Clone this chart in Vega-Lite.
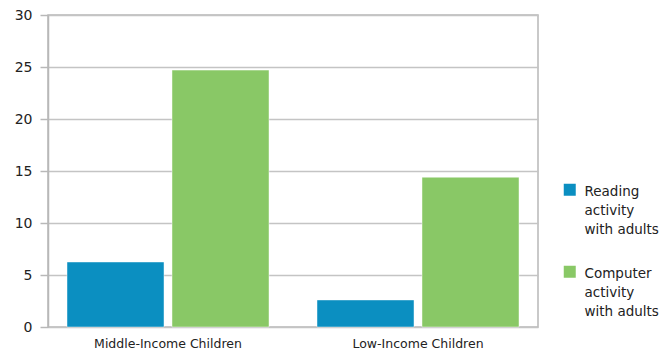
{
  "$schema": "https://vega.github.io/schema/vega-lite/v6.json",
  "autosize": "none",
  "width": 490,
  "height": 312,
  "padding": {"left": 48, "top": 15, "right": 132, "bottom": 26},
  "background": "white",
  "config": {
    "font": "DejaVu Sans",
    "view": {"stroke": "#b8b8b8", "strokeWidth": 1.5},
    "style": {"guide-label": {"lineHeight": 19, "dy": -5}}
  },
  "data": {
    "values": [
      {"group": "Middle-Income Children", "activity": "Reading activity with adults", "value": 6.25},
      {"group": "Middle-Income Children", "activity": "Computer activity with adults", "value": 24.7},
      {"group": "Low-Income Children", "activity": "Reading activity with adults", "value": 2.6},
      {"group": "Low-Income Children", "activity": "Computer activity with adults", "value": 14.4}
    ]
  },
  "mark": {"type": "bar", "stroke": "#ffffff", "strokeOpacity": 0.45, "strokeWidth": 1},
  "encoding": {
    "x": {
      "field": "group",
      "type": "nominal",
      "sort": ["Middle-Income Children", "Low-Income Children"],
      "scale": {"paddingInner": 0.192, "paddingOuter": 0.076},
      "axis": {
        "title": null,
        "labelAngle": 0,
        "ticks": false,
        "domain": false,
        "labelFontSize": 12.5,
        "labelColor": "#222222",
        "labelPadding": 15
      }
    },
    "xOffset": {
      "field": "activity",
      "type": "nominal",
      "sort": ["Reading activity with adults", "Computer activity with adults"],
      "scale": {"paddingInner": 0.076, "paddingOuter": 0}
    },
    "y": {
      "field": "value",
      "type": "quantitative",
      "scale": {"domain": [0, 30], "nice": false},
      "axis": {
        "title": null,
        "values": [0, 5, 10, 15, 20, 25, 30],
        "tickSize": 8,
        "tickColor": "#b8b8b8",
        "tickWidth": 1.5,
        "domainColor": "#b8b8b8",
        "domainWidth": 1.5,
        "gridColor": "#c4c4c4",
        "gridWidth": 1.5,
        "labelFontSize": 14,
        "labelColor": "#222222",
        "labelPadding": 8,
        "labelOffset": 5
      }
    },
    "color": {
      "field": "activity",
      "type": "nominal",
      "sort": ["Reading activity with adults", "Computer activity with adults"],
      "scale": {
        "domain": ["Reading activity with adults", "Computer activity with adults"],
        "range": ["#0b8fc1", "#89c866"]
      },
      "legend": {
        "title": null,
        "orient": "none",
        "legendX": 515,
        "legendY": 168,
        "symbolType": "square",
        "symbolSize": 144,
        "symbolStrokeWidth": 0,
        "labelFontSize": 13.5,
        "labelColor": "#222222",
        "labelBaseline": "top",
        "labelOffset": 8,
        "rowPadding": 28,
        "labelExpr": "datum.label == 'Reading activity with adults' ? ['Reading', 'activity', 'with adults'] : ['Computer', 'activity', 'with adults']"
      }
    }
  }
}
